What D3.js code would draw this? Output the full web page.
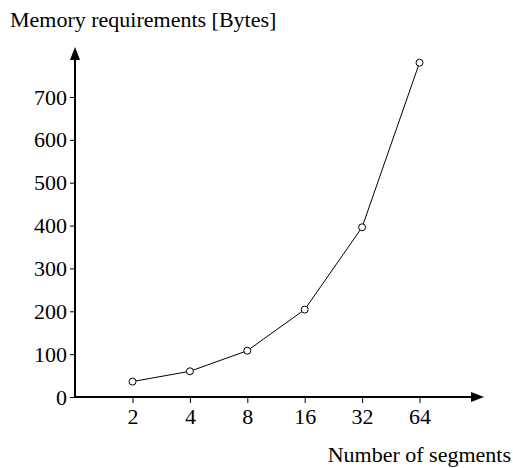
<!DOCTYPE html>
<html>
<head>
<meta charset="utf-8">
<script src="https://cdn.jsdelivr.net/npm/d3@7"></script>
<style>
  body { margin: 0; background: #fff; }
  text { font-family: "Liberation Serif", "Times New Roman", serif; fill: #000; }
</style>
</head>
<body>
<script>
// Data
var segments = ['2', '4', '8', '16', '32', '64'];
var memory = [36, 60, 108, 204, 396, 780];
var yTicks = [0, 100, 200, 300, 400, 500, 600, 700];

var width = 513, height = 468;
var fontSize = 22;

var svg = d3.select('body')
  .append('svg')
  .attr('width', width)
  .attr('height', height);

var x0 = 75, y0 = 397;

var xScale = d3.scalePoint()
  .domain(segments)
  .range([132.5, 419.5]);
var yScale = d3.scaleLinear()
  .domain([0, 700])
  .range([y0, 97]);

// y axis ticks + labels
var yAxis = d3.axisLeft(yScale)
  .tickValues(yTicks)
  .tickSize(5)
  .tickPadding(3);
var gy = svg.append('g')
  .attr('transform', 'translate(' + x0 + ',0)')
  .call(yAxis);
gy.select('.domain').remove();
gy.selectAll('text').style('font-size', fontSize + 'px');

// x axis ticks + labels
var xAxis = d3.axisBottom(xScale)
  .tickSize(6)
  .tickPadding(5);
var gx = svg.append('g')
  .attr('transform', 'translate(0,' + y0 + ')')
  .call(xAxis);
gx.select('.domain').remove();
gx.selectAll('text').style('font-size', fontSize + 'px');

// axis lines with arrowheads
svg.append('line')
  .attr('x1', x0).attr('y1', y0 + 1)
  .attr('x2', x0).attr('y2', 58)
  .attr('stroke', '#000').attr('stroke-width', 2);
svg.append('path')
  .attr('d', 'M' + x0 + ',47L' + (x0 - 5) + ',60L' + (x0 + 5) + ',60Z')
  .attr('fill', '#000');
svg.append('line')
  .attr('x1', x0 - 1).attr('y1', y0)
  .attr('x2', 472).attr('y2', y0)
  .attr('stroke', '#000').attr('stroke-width', 2);
svg.append('path')
  .attr('d', 'M484,' + y0 + 'L471,' + (y0 - 5) + 'L471,' + (y0 + 5) + 'Z')
  .attr('fill', '#000');

// data line
var line = d3.line()
  .x(function(d, i) { return xScale(segments[i]); })
  .y(function(d) { return yScale(d); });
svg.append('path')
  .datum(memory)
  .attr('d', line)
  .attr('fill', 'none')
  .attr('stroke', '#000')
  .attr('stroke-width', 1);

svg.selectAll('.pt')
  .data(memory)
  .enter().append('circle')
  .attr('class', 'pt')
  .attr('cx', function(d, i) { return xScale(segments[i]); })
  .attr('cy', function(d) { return yScale(d); })
  .attr('r', 3.5)
  .attr('fill', '#fff')
  .attr('stroke', '#000')
  .attr('stroke-width', 1);

// labels
svg.append('text')
  .attr('x', 10)
  .attr('y', 27)
  .style('font-size', fontSize + 'px')
  .text('Memory requirements [Bytes]');
svg.append('text')
  .attr('x', 511)
  .attr('y', 462)
  .attr('text-anchor', 'end')
  .style('font-size', fontSize + 'px')
  .text('Number of segments');
</script>
</body>
</html>
